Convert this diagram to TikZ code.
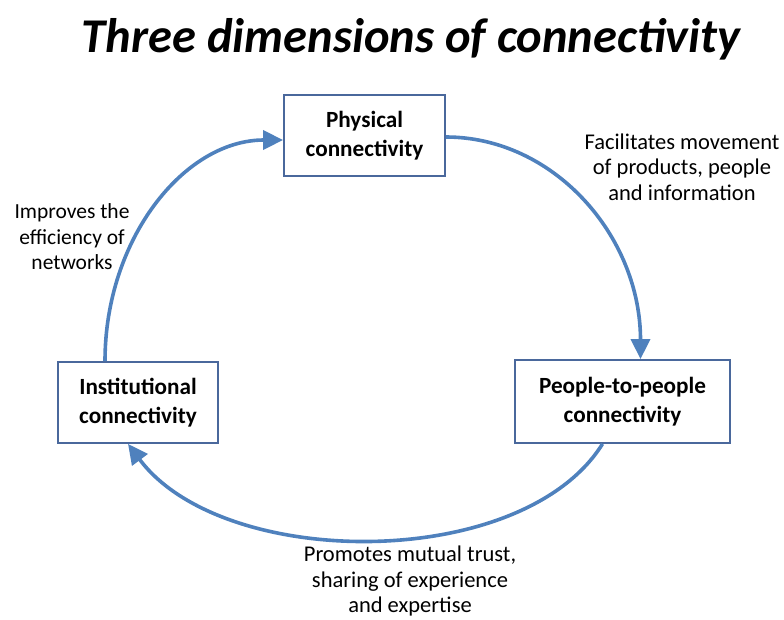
\documentclass[tikz,border=0pt]{standalone}
\usepackage{fontspec}
\setmainfont{Carlito}
\usetikzlibrary{arrows.meta}
\definecolor{boxline}{RGB}{74,104,156}
\definecolor{cyclearrow}{RGB}{79,129,189}
\begin{document}
\begin{tikzpicture}
[
    x=1pt, y=-1pt,
    dimbox/.style={draw=boxline, line width=1.8pt, fill=white, align=center,
        font=\bfseries\fontsize{23.2}{29.5}\selectfont, inner sep=0pt},
    cycle/.style={draw=cyclearrow, line width=3.6pt,
        -{Triangle[length=20pt,width=19pt]}},
    note/.style={align=center, inner sep=0pt, font=\fontsize{22.5}{25.5}\selectfont},
]
\useasboundingbox (0,0) rectangle (784,619);
\node[anchor=base, font=\bfseries\itshape\fontsize{48.5}{52}\selectfont] (title) at (411,52) {Three dimensions of connectivity};
\node[dimbox, minimum width=161pt, minimum height=81pt] (physical) at (364.5,135.5) {Physical\\connectivity};
\node[dimbox, minimum width=215pt, minimum height=83pt] (people) at (622.5,401.5) {People-to-people\\connectivity};
\node[dimbox, minimum width=160pt, minimum height=81pt] (institutional) at (138,402.5) {Institutional\\connectivity};
\draw[cycle] ([yshift=-1.5]physical.east) .. controls +(108,0) and +(0,-123) .. ([xshift=18]people.north);
\draw[cycle] ([xshift=-20]people.south) .. controls +(-80,128) and +(95,127) .. ([xshift=-10]institutional.south);
\draw[cycle] ([xshift=-33]institutional.north) .. controls +(0,-122) and +(-99,0) .. ([yshift=-4.5]physical.west);
\node[note] (movement) at (682,167) {Facilitates movement\\of products, people\\and information};
\node[note] (trust) at (410,581) {Promotes mutual trust,\\sharing of experience\\and expertise};
\node[note, font=\fontsize{21.5}{25.5}\selectfont] (efficiency) at (72,237) {Improves the\\efficiency of\\networks};
\end{tikzpicture}
\end{document}
